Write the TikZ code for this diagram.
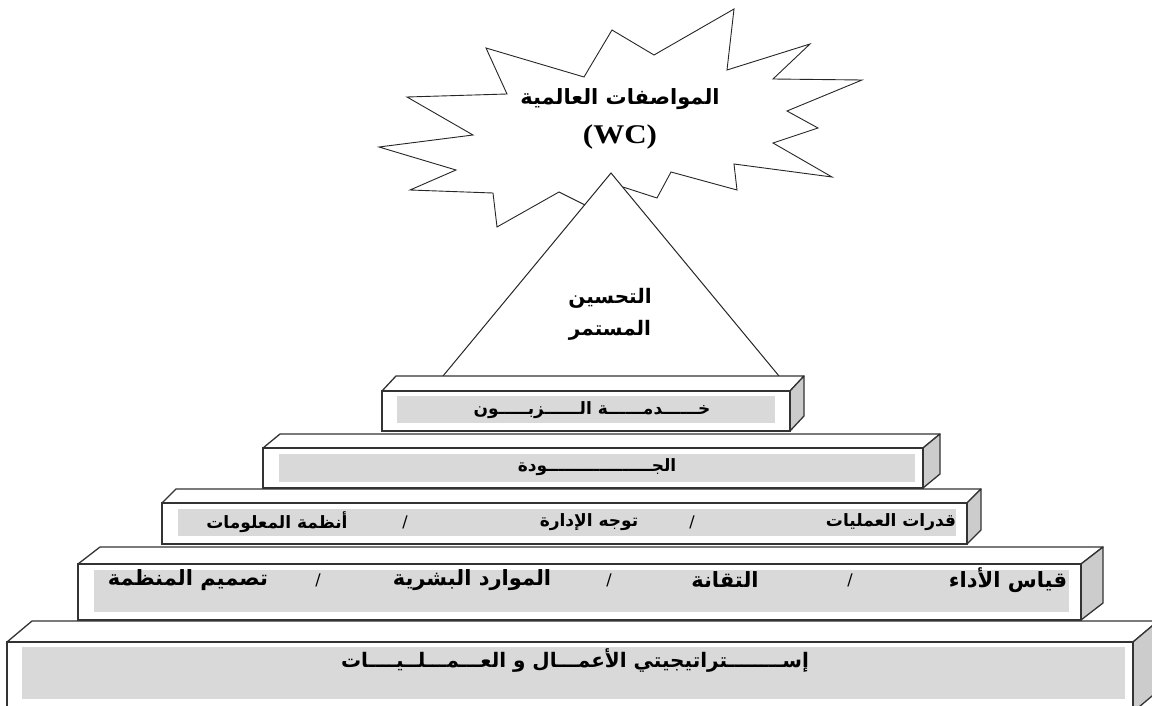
\documentclass[tikz,border=0pt]{standalone}
\usepackage{fontspec}
\usepackage{graphicx}
\setmainfont{Liberation Serif}
\newfontfamily\arabicfont[Script=Arabic]{DejaVu Sans}
\TeXXeTstate=1
% one step of the staircase: left, right, top, bottom, depth x, depth y
\newcommand{\slab}[6]{%
  \filldraw[slab top] (#1,#3) -- ++(#5,-#6) -- (#2+#5,#3-#6) -- (#2,#3) -- cycle;
  \filldraw[slab side] (#2,#3) -- ++(#5,-#6) -- (#2+#5,#4-#6) -- (#2,#4) -- cycle;
  \filldraw[slab front] (#1,#3) rectangle (#2,#4);}
\newcommand{\arab}[1]{{\arabicfont\bfseries\beginR #1\endR}}

\begin{document}
\begin{tikzpicture}[x=1pt,y=-1pt,
  slab top/.style={draw=black!80,line width=1.3pt,fill=white,line join=round},
  slab side/.style={draw=black!80,line width=1.3pt,fill=black!20,line join=round},
  slab front/.style={draw=black!80,line width=1.3pt,fill=white},
  band/.style={fill=black!15},
  lbl/.style={inner sep=0pt,font=\fontsize{17}{20}\selectfont},
  big/.style={inner sep=0pt,font=\fontsize{21}{24}\selectfont},
  sep/.style={inner sep=0pt,font=\arabicfont\fontsize{16}{19}\selectfont}]
\useasboundingbox (0,0) rectangle (1152,706);
\clip (0,0) rectangle (1152,706);
% ---------- world class burst ----------
\filldraw[draw=black!85,line width=0.9pt,fill=white,line join=miter]
  (486,48) -- (584,77) -- (612,30) -- (654,55) -- (734,9) -- (727,70) -- (810,44)
  -- (773,79) -- (862,80) -- (787,111) -- (818,128) -- (773,143) -- (832,177)
  -- (734,164) -- (737,190) -- (671,172) -- (657,198) -- (623,187) -- (605,215)
  -- (583,204) -- (559,192) -- (497,227) -- (493,193) -- (410,190) -- (456,170)
  -- (379,147) -- (473,135) -- (407,97) -- (507,94) -- cycle;
\node[big] (wcar) at (620,99) {\arab{المواصفات العالمية}};
\node[inner sep=0pt,font=\bfseries\fontsize{27}{29}\selectfont] (wc) at (620,137)
  {\scalebox{1.15}[1]{(WC)}};
% ---------- continuous improvement ----------
\filldraw[draw=black!85,line width=1pt,fill=white] (443,376) -- (611,173) -- (779,376);
\node[big,font=\fontsize{20}{32}\selectfont,align=center] (ci) at (610,314)
  {\arab{التحسين}\\\arab{المستمر}};
% ---------- the steps, bottom up ----------
\slab{7}{1133}{642}{712}{25}{21}
\fill[band] (22,647) rectangle (1125,699);
\slab{78}{1081}{564}{620}{22}{17}
\fill[band] (94,570) rectangle (1069,612);
\slab{162}{967}{503}{544}{14}{14}
\fill[band] (178,509) rectangle (956,536);
\slab{263}{923}{448}{488}{17}{14}
\fill[band] (279,454) rectangle (915,482);
\slab{382}{790}{391}{431}{14}{15}
\fill[band] (397,396) rectangle (775,423);
% ---------- labels ----------
\node[big,font=\fontsize{20}{23}\selectfont] (strat) at (575,660)
  {\arab{إســــــــتراتيجيتي  الأعمـــال و العـــمـــلــيــــات}};
\node[big] (perf) at (1008,580) {\arab{قياس الأداء}};
\node[sep] (s41) at (850,580) {/};
\node[big] (tech) at (725,580) {\arab{التقانة}};
\node[sep] (s42) at (609,580) {/};
\node[big] (hr) at (472,580) {\arab{الموارد البشرية}};
\node[sep] (s43) at (318,580) {/};
\node[big] (orgd) at (188,580) {\arab{تصميم المنظمة}};
\node[lbl] (ops) at (891,522) {\arab{قدرات العمليات}};
\node[sep] (s31) at (692,522) {/};
\node[lbl] (mgmt) at (589,522) {\arab{توجه الإدارة}};
\node[sep] (s32) at (405,522) {/};
\node[lbl] (info) at (277,522) {\arab{أنظمة المعلومات}};
\node[lbl] (qual) at (597,467) {\arab{الجــــــــــــــــــودة}};
\node[lbl] (cust) at (592,410) {\arab{خــــــدمــــــة الــــــزبـــــون}};
\end{tikzpicture}
\end{document}
